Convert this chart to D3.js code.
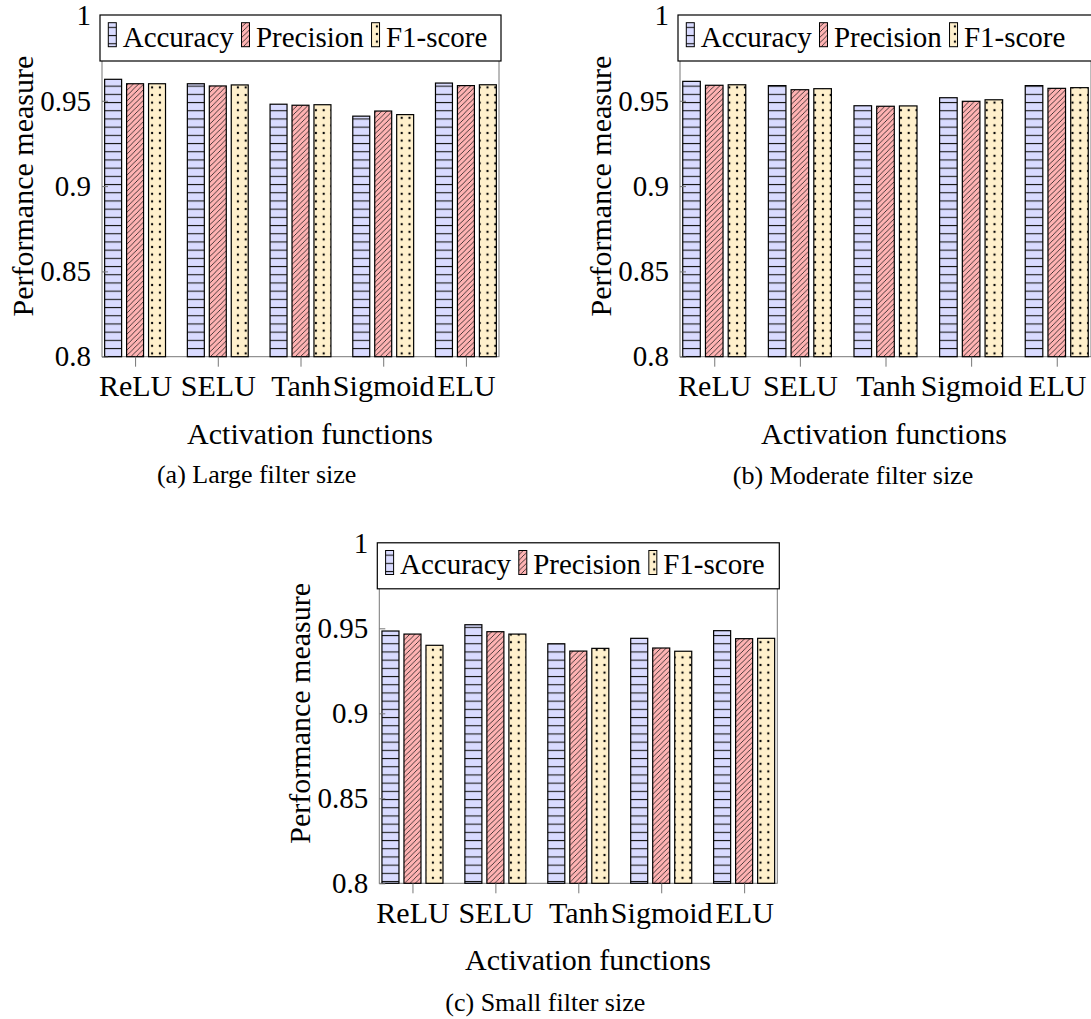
<!DOCTYPE html>
<html>
<head>
<meta charset="utf-8">
<script src="https://cdn.jsdelivr.net/npm/d3@7"></script>
<style>
  body { margin: 0; background: #fff; }
  text { font-family: "Liberation Serif", serif; fill: #000; }
</style>
</head>
<body>
<div id="vis"></div>
<script>
// data
var categories = ["ReLU", "SELU", "Tanh", "Sigmoid", "ELU"];
var seriesNames = ["Accuracy", "Precision", "F1-score"];
var yTicks = [0.8, 0.85, 0.9, 0.95, 1];
var yTickLabels = ["0.8", "0.85", "0.9", "0.95", "1"];

var largeAccuracy  = [0.9626, 0.9600, 0.9480, 0.9410, 0.9604];
var largePrecision = [0.9600, 0.9587, 0.9474, 0.9440, 0.9589];
var largeF1        = [0.9600, 0.9593, 0.9477, 0.9419, 0.9594];

var moderateAccuracy  = [0.9614, 0.9589, 0.9471, 0.9518, 0.9589];
var moderatePrecision = [0.9591, 0.9565, 0.9468, 0.9497, 0.9573];
var moderateF1        = [0.9594, 0.9571, 0.9470, 0.9506, 0.9577];

var smallAccuracy  = [0.9484, 0.9521, 0.9409, 0.9441, 0.9486];
var smallPrecision = [0.9466, 0.9480, 0.9366, 0.9384, 0.9439];
var smallF1        = [0.9400, 0.9466, 0.9382, 0.9365, 0.9441];

var captions = ["(a) Large filter size", "(b) Moderate filter size", "(c) Small filter size"];
var xTitle = "Activation functions";
var yTitle = "Performance measure";

// SVG geometry
var width = 1091;
var height = 1019;

var svg = d3.select('#vis')
  .append("svg")
  .attr('width', width)
  .attr('height', height);

// patterns
var defs = svg.append("defs");

var pAcc = defs.append("pattern")
  .attr("id", "pat0")
  .attr("patternUnits", "userSpaceOnUse")
  .attr("width", 8).attr("height", 8.2);
pAcc.append("rect").attr("width", 8).attr("height", 8.2).attr("fill", "#d9dbff");
pAcc.append("rect").attr("y", 3.6).attr("width", 8).attr("height", 1.1).attr("fill", "#1a1a1a");

var pPrec = defs.append("pattern")
  .attr("id", "pat1")
  .attr("patternUnits", "userSpaceOnUse")
  .attr("width", 5.3).attr("height", 5.3);
pPrec.append("rect").attr("width", 5.3).attr("height", 5.3).attr("fill", "#ffb3b3");
pPrec.append("path")
  .attr("d", "M0,5.3L5.3,0M-1,1L1,-1M4.3,6.3L6.3,4.3")
  .attr("stroke", "#1a1a1a")
  .attr("stroke-width", 0.8);

var pF1 = defs.append("pattern")
  .attr("id", "pat2")
  .attr("patternUnits", "userSpaceOnUse")
  .attr("width", 7.8).attr("height", 7.6);
pF1.append("rect").attr("width", 7.8).attr("height", 7.6).attr("fill", "#fff0cc");
pF1.append("circle").attr("cx", 3.9).attr("cy", 3.8).attr("r", 1.15).attr("fill", "#000");

// panel layout
var panels = [
  { left: 102, right: 499, top: 15.5, bottom: 356.7, titleX: 310, capX: 256.7, capY: 483.3,
    values: [largeAccuracy, largePrecision, largeF1] },
  { left: 680, right: 1091, top: 15.5, bottom: 356.7, titleX: 884, capX: 853, capY: 484,
    values: [moderateAccuracy, moderatePrecision, moderateF1] },
  { left: 379.3, right: 777.3, top: 543.3, bottom: 883.3, titleX: 588, capX: 545.3, capY: 1011,
    values: [smallAccuracy, smallPrecision, smallF1] }
];

panels.forEach(function(p, k) {
  var g = svg.append("g");

  var x = d3.scalePoint()
    .domain(categories)
    .range([p.left, p.right])
    .padding(0.4);
  var xs = d3.scaleBand()
    .domain(seriesNames)
    .range([-0.368 * x.step(), 0.368 * x.step()])
    .paddingInner(0.227);
  var y = d3.scaleLinear()
    .domain([0.8, 1])
    .range([p.bottom, p.top]);

  var rows = [];
  categories.forEach(function(c, i) {
    seriesNames.forEach(function(s, j) {
      rows.push({ cat: c, name: s, j: j, value: p.values[j][i] });
    });
  });

  // frame
  g.append("rect")
    .attr("x", p.left).attr("y", p.top)
    .attr("width", p.right - p.left).attr("height", p.bottom - p.top)
    .attr("fill", "none")
    .attr("stroke", "#777")
    .attr("stroke-width", 1);

  // bars
  g.append("g").selectAll("rect")
    .data(rows)
    .enter().append("rect")
    .attr("x", function(d) { return x(d.cat) + xs(d.name); })
    .attr("y", function(d) { return y(d.value); })
    .attr("width", xs.bandwidth())
    .attr("height", function(d) { return y(0.8) - y(d.value); })
    .attr("fill", function(d) { return "url(#pat" + d.j + ")"; })
    .attr("stroke", "#000")
    .attr("stroke-width", 1.2);

  // y axis
  var yAxis = g.append("g")
    .attr("transform", "translate(" + p.left + ",0)")
    .call(d3.axisLeft(y)
      .tickValues(yTicks)
      .tickFormat(function(d, i) { return yTickLabels[i]; })
      .tickSize(-6)
      .tickPadding(11));
  yAxis.select(".domain").remove();
  yAxis.attr("font-family", null).attr("font-size", null);
  yAxis.selectAll("line").attr("stroke", "#777");
  yAxis.selectAll("text").style("font-size", "29px");

  // x axis
  var xAxis = g.append("g")
    .attr("transform", "translate(0," + p.bottom + ")")
    .call(d3.axisBottom(x).tickSize(10).tickPadding(8));
  xAxis.select(".domain").remove();
  xAxis.attr("font-family", null).attr("font-size", null);
  xAxis.selectAll("line").attr("stroke", "#777");
  xAxis.selectAll("text").style("font-size", "30px");

  // titles
  g.append("text")
    .attr("x", p.titleX)
    .attr("y", p.bottom + 87)
    .attr("text-anchor", "middle")
    .style("font-size", "30px")
    .text(xTitle);

  g.append("text")
    .attr("transform", "translate(" + (p.left - 69) + "," + ((p.top + p.bottom) / 2) + ") rotate(-90)")
    .attr("text-anchor", "middle")
    .style("font-size", "30px")
    .text(yTitle);

  g.append("text")
    .attr("x", p.capX)
    .attr("y", p.capY)
    .attr("text-anchor", "middle")
    .style("font-size", "26px")
    .text(captions[k]);

  // legend
  var lg = g.append("g")
    .attr("transform", "translate(" + (p.left - 2) + "," + (p.top - 0.5) + ")");
  lg.append("rect")
    .attr("width", p.right - p.left + 4)
    .attr("height", 46)
    .attr("fill", "#fff")
    .attr("stroke", "#000")
    .attr("stroke-width", 1.2);

  var cx = 8.3;
  seriesNames.forEach(function(s, j) {
    lg.append("rect")
      .attr("x", cx).attr("y", 7.7)
      .attr("width", 8).attr("height", 24)
      .attr("fill", "url(#pat" + j + ")")
      .attr("stroke", "#000")
      .attr("stroke-width", 1);
    var t = lg.append("text")
      .attr("x", cx + 14.4)
      .attr("y", 31.7)
      .style("font-size", "29px")
      .text(s);
    cx = cx + 14.4 + t.node().getComputedTextLength() + 7.7;
  });
});
</script>
</body>
</html>
